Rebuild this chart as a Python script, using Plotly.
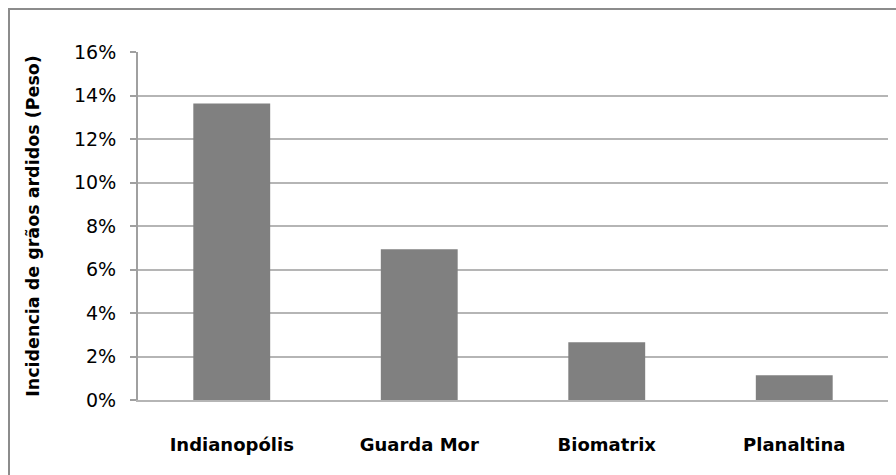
import plotly.graph_objects as go

categories = ["Indianopólis", "Guarda Mor", "Biomatrix", "Planaltina"]
values = [0.1363, 0.0693, 0.0265, 0.0114]
y_title = "Incidencia de grãos ardidos (Peso)"

W, H = 896, 475
ML, MR, MT, MB = 138, 8, 52, 75
pw, ph = W - ML - MR, H - MT - MB

fig = go.Figure(go.Bar(x=categories, y=values, marker=dict(color="#808080", line=dict(width=0)),
                       width=0.41))

fig.update_layout(
    width=W, height=H,
    margin=dict(l=ML, r=MR, t=MT, b=MB),
    paper_bgcolor="white", plot_bgcolor="white",
    showlegend=False,
    font=dict(family="DejaVu Sans", color="#000000"),
    xaxis=dict(showgrid=False, showline=True, linecolor="#b5b5b5", linewidth=2,
               ticks="", tickfont=dict(family="DejaVu Sans", size=18, weight="bold"),
               ticklabelstandoff=27, range=[-0.5, 3.5]),
    yaxis=dict(range=[0, 0.16], dtick=0.02, tickformat=".0%", showgrid=True,
               gridcolor="#b5b5b5", gridwidth=2, showline=True, linecolor="#a0a0a0",
               linewidth=2, ticks="outside", ticklen=6, tickcolor="#a0a0a0", tickwidth=2,
               tickfont=dict(family="DejaVu Sans", size=19), ticklabelstandoff=10,
               zeroline=False,
               title=dict(text=y_title, font=dict(family="DejaVu Sans", size=17.5, weight="bold"),
                          standoff=30)),
    shapes=[dict(type="rect", xref="paper", yref="paper",
                 x0=(9 - ML) / pw, x1=(W + 5 - ML) / pw,
                 y0=(H - MB - (H + 5)) / ph, y1=(H - MB - 9) / ph,
                 line=dict(color="#8c8c8c", width=2), fillcolor="rgba(0,0,0,0)", layer="below")],
)

fig.write_html("out.html", config={"displayModeBar": False},
               post_script="document.body.style.margin='0';document.body.style.overflow='hidden';")
